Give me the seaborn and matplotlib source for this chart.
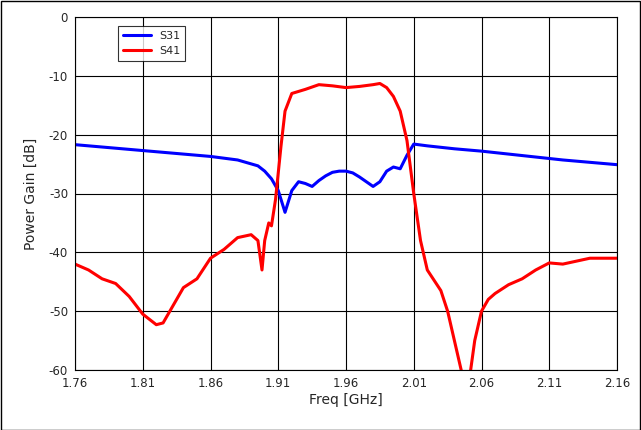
import matplotlib
matplotlib.use("Agg")
import matplotlib.pyplot as plt
import seaborn as sns
import pandas as pd

s31_f = [1.76,1.78,1.80,1.82,1.84,1.86,1.88,1.895,1.90,1.905,1.91,1.915,1.92,1.925,1.93,1.935,1.94,1.945,1.95,1.955,1.96,1.965,1.97,1.975,1.98,1.985,1.99,1.995,2.0,2.005,2.01,2.02,2.04,2.06,2.08,2.10,2.12,2.14,2.16]
s31_v = [-21.7,-22.1,-22.5,-22.9,-23.3,-23.7,-24.3,-25.3,-26.2,-27.5,-29.5,-33.2,-29.5,-28.0,-28.3,-28.8,-27.8,-27.0,-26.4,-26.2,-26.2,-26.5,-27.2,-28.0,-28.8,-28.0,-26.2,-25.5,-25.8,-23.5,-21.6,-21.9,-22.4,-22.8,-23.3,-23.8,-24.3,-24.7,-25.1]
s41_f = [1.76,1.77,1.78,1.79,1.80,1.81,1.82,1.825,1.83,1.84,1.85,1.86,1.87,1.88,1.89,1.895,1.898,1.90,1.903,1.905,1.908,1.912,1.915,1.92,1.93,1.94,1.95,1.96,1.97,1.98,1.985,1.99,1.995,2.0,2.005,2.01,2.015,2.02,2.03,2.035,2.04,2.045,2.048,2.05,2.052,2.055,2.06,2.065,2.07,2.08,2.09,2.10,2.11,2.12,2.13,2.14,2.15,2.16]
s41_v = [-42.0,-43.0,-44.5,-45.3,-47.5,-50.5,-52.3,-52.0,-50.0,-46.0,-44.5,-41.0,-39.5,-37.5,-37.0,-38.0,-43.0,-38.0,-35.0,-35.5,-31.0,-22.0,-16.0,-13.0,-12.3,-11.5,-11.7,-12.0,-11.8,-11.5,-11.3,-12.0,-13.5,-16.0,-21.0,-30.0,-38.0,-43.0,-46.5,-50.0,-55.0,-60.0,-66.0,-65.0,-60.0,-55.0,-50.0,-48.0,-47.0,-45.5,-44.5,-43.0,-41.8,-42.0,-41.5,-41.0,-41.0,-41.0]

df = pd.concat([pd.DataFrame({"f": s31_f, "v": s31_v, "s": "S31"}),
                pd.DataFrame({"f": s41_f, "v": s41_v, "s": "S41"})])

sns.set_style("white")
plt.rcParams["font.family"] = ["DejaVu Sans"]
plt.rcParams["axes.unicode_minus"] = False
fig = plt.figure(figsize=(6.41, 4.30), dpi=100)
ax = fig.add_axes([75/641, 60/430, 542/641, 353/430])
sns.lineplot(data=df, x="f", y="v", hue="s", palette={"S31": "#0000ff", "S41": "#ff0000"},
             linewidth=2.2, ax=ax, sort=False)
ax.set_xlim(1.76, 2.16)
ax.set_ylim(-60, 0)
ax.set_xticks([1.76+0.05*i for i in range(9)])
ax.set_xticklabels(["1.76","1.81","1.86","1.91","1.96","2.01","2.06","2.11","2.16"])
ax.set_yticks(range(-60, 1, 10))
ax.grid(True, color="black", linewidth=0.8)
ax.tick_params(labelsize=8.5, length=0, pad=5)
for s in ax.spines.values():
    s.set_color("black"); s.set_linewidth(0.8)
ax.set_xlabel("Freq [GHz]", fontsize=10, labelpad=2)
ax.set_ylabel("Power Gain [dB]", fontsize=10, labelpad=8)
leg = ax.legend(loc="upper left", bbox_to_anchor=(0.07, 0.99), fontsize=8, frameon=True,
                fancybox=False, edgecolor="black", borderpad=0.4, handlelength=2.5)
leg.get_frame().set_linewidth(0.8)
fig.patches.append(plt.Rectangle((0.001, 0.001), 0.997, 0.997, transform=fig.transFigure,
                                 fill=False, edgecolor="black", linewidth=1))
fig.savefig("out.png", dpi=100)
